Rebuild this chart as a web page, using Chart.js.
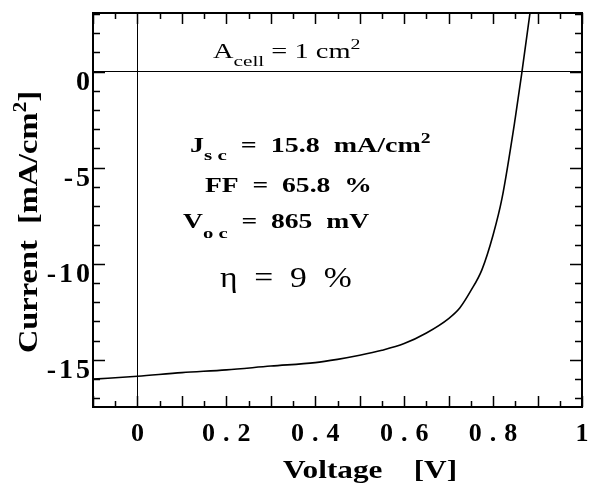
<!DOCTYPE html>
<html>
<head>
<meta charset="utf-8">
<script src="https://cdn.jsdelivr.net/npm/chart.js@4.4.1/dist/chart.umd.min.js"></script>
<style>
  html, body { margin: 0; padding: 0; background: #fff; }
  #wrap { width: 590px; height: 495px; position: relative; }
</style>
</head>
<body>
<div id="wrap"><canvas id="jv"></canvas></div>
<script>
// J-V curve
const voltage = [-0.1, 0, 0.1, 0.2, 0.3, 0.4, 0.45, 0.5, 0.55, 0.6, 0.65, 0.7, 0.725, 0.75, 0.775, 0.8, 0.82, 0.85, 0.865, 0.883];
const current = [-16.0, -15.85, -15.66, -15.52, -15.32, -15.14, -14.97, -14.76, -14.5, -14.15, -13.6, -12.85, -12.3, -11.4, -10.3, -8.5, -6.6, -2.4, 0, 3.05];

// axes
const xRange = [-0.1, 1.0];
const yRange = [-17.45, 3.05];
const xLabelStep = 0.2;
const yLabelStep = 5;
const xMinorStep = 0.05;
const yMinorStep = 1;

const serif = '"Liberation Serif", "Times New Roman", serif';

function drawRich(ctx, parts, x, y, opts) {
    // parts: [text, font, dy]
    ctx.save();
    ctx.translate(x, y);
    if (opts.rotate) ctx.rotate(opts.rotate);
    ctx.scale(opts.sx || 1, 1);
    let w = 0;
    parts.forEach(p => { ctx.font = p[1]; w += ctx.measureText(p[0]).width; });
    let cx = opts.align === "center" ? -w / 2 : 0;
    ctx.fillStyle = "#000";
    ctx.textAlign = "left";
    ctx.textBaseline = "alphabetic";
    parts.forEach(p => {
        ctx.font = p[1];
        ctx.fillText(p[0], cx, p[2] || 0);
        cx += ctx.measureText(p[0]).width;
    });
    ctx.restore();
}

// letter spacing of tick labels: x labels drawn before the datasets, y labels (z 1) after
const spacing = {
    id: "spacing",
    beforeDraw(chart) { chart.ctx.letterSpacing = "8px"; },
    beforeDatasetsDraw(chart) { chart.ctx.letterSpacing = "0px"; },
    afterDatasetsDraw(chart) { chart.ctx.letterSpacing = "3px"; },
    afterDraw(chart) { chart.ctx.letterSpacing = "0px"; }
};

// box with inward ticks on all four sides, plus titles and notes
const frame = {
    id: "frame",
    afterDraw(chart) {
        const ctx = chart.ctx;
        const a = chart.chartArea;
        const xs = chart.scales.x, ys = chart.scales.y;
        ctx.save();
        ctx.letterSpacing = "0px";
        ctx.strokeStyle = "#000";
        ctx.lineWidth = 2;
        ctx.strokeRect(a.left, a.top, a.right - a.left, a.bottom - a.top);

        ctx.lineWidth = 1.5;
        ctx.beginPath();
        for (let i = Math.ceil(xRange[0] / xMinorStep - 1e-6); i <= Math.floor(xRange[1] / xMinorStep + 1e-6); i++) {
            const px = Math.round(xs.getPixelForValue(i * xMinorStep)) + 0.5;
            const len = i % 2 === 0 ? 11 : 6;
            ctx.moveTo(px, a.bottom); ctx.lineTo(px, a.bottom - len);
            ctx.moveTo(px, a.top); ctx.lineTo(px, a.top + len);
        }
        for (let j = Math.ceil(yRange[0] / yMinorStep); j <= Math.floor(yRange[1] / yMinorStep); j++) {
            const py = Math.round(ys.getPixelForValue(j * yMinorStep)) + 0.5;
            const len = j % 5 === 0 ? 12 : 7;
            ctx.moveTo(a.left, py); ctx.lineTo(a.left + len, py);
            ctx.moveTo(a.right, py); ctx.lineTo(a.right - len, py);
        }
        ctx.stroke();
        ctx.restore();

        const b20 = "bold 20px " + serif, b15 = "bold 15px " + serif, b14 = "bold 14px " + serif;
        const r20 = "20px " + serif, r15 = "15px " + serif, r14 = "14px " + serif;

        // axis titles
        drawRich(ctx, [["Voltage    [V]", "bold 25px " + serif]], 370, 478, { sx: 1.25, align: "center" });
        drawRich(ctx, [["Current  [mA/cm", "bold 27px " + serif], ["2", "bold 18px " + serif, -11], ["]", "bold 27px " + serif]],
            37, 222, { sx: 1.2, align: "center", rotate: -Math.PI / 2 });

        // notes
        drawRich(ctx, [["A", r20], ["cell", r15, 8], [" = 1 cm", r20], ["2", r14, -9]], 213, 58, { sx: 1.42 });
        drawRich(ctx, [["J", b20], ["s c", b15, 8], ["  =  15.8  mA/cm", b20], ["2", b14, -9]], 190, 152, { sx: 1.4 });
        drawRich(ctx, [["FF  =  65.8  %", b20]], 205, 192, { sx: 1.38 });
        drawRich(ctx, [["V", b20], ["o c", b15, 10], ["  =  865  mV", b20]], 183, 228, { sx: 1.38 });
        drawRich(ctx, [["\u03b7  =  9  %", "30px " + serif]], 220, 287, { sx: 1.12 });
    }
};

const zeroGrid = c => (c.tick && c.tick.value === 0 ? "#000" : "rgba(0,0,0,0)");

new Chart(document.getElementById("jv"), {
    type: "line",
    data: {
        datasets: [{
            data: voltage.map((v, i) => ({ x: v, y: current[i] })),
            borderColor: "#000",
            borderWidth: 1.6,
            pointRadius: 0,
            fill: false,
            cubicInterpolationMode: "monotone"
        }]
    },
    options: {
        responsive: true,
        maintainAspectRatio: false,
        animation: false,
        layout: { padding: { top: 13, right: 8, left: 0, bottom: 0 } },
        plugins: { legend: { display: false }, tooltip: { enabled: false } },
        scales: {
            x: {
                type: "linear",
                min: xRange[0],
                max: xRange[1],
                afterFit: s => { s.height = 88; s.paddingLeft = 0; s.paddingRight = 0; },
                grid: { color: zeroGrid, lineWidth: 1, drawTicks: false },
                border: { color: "#000", width: 2 },
                ticks: {
                    stepSize: xLabelStep,
                    includeBounds: false,
                    padding: 12,
                    labelOffset: 4,
                    color: "#000",
                    maxRotation: 0,
                    autoSkip: false,
                    callback: v => String(Math.round(v * 10) / 10),
                    font: { family: serif, size: 26, weight: "bold" }
                }
            },
            y: {
                type: "linear",
                min: yRange[0],
                max: yRange[1],
                afterFit: s => { s.width = 93; s.paddingTop = 0; s.paddingBottom = 0; },
                grid: { color: zeroGrid, lineWidth: 1, drawTicks: false },
                border: { color: "#000", width: 2 },
                ticks: {
                    z: 1,
                    stepSize: yLabelStep,
                    includeBounds: false,
                    padding: 0,
                    labelOffset: 11,
                    color: "#000",
                    font: { family: serif, size: 28, weight: "bold" }
                }
            }
        }
    },
    plugins: [spacing, frame]
});
</script>
</body>
</html>
